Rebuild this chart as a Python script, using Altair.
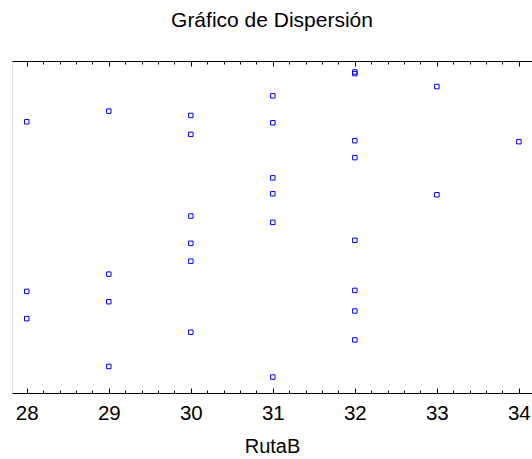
import altair as alt
import pandas as pd

# Data (y has no labelled scale; arbitrary 0-100 units)
ruta_b = [28, 28, 28,
          29, 29, 29, 29,
          30, 30, 30, 30, 30, 30,
          31, 31, 31, 31, 31, 31,
          32, 32, 32, 32, 32, 32, 32, 32,
          33, 33,
          34]
ruta_a = [81.7, 30.6, 22.4,
          84.9, 35.8, 27.5, 8.0,
          83.6, 77.9, 53.3, 45.1, 39.7, 18.3,
          89.5, 81.4, 64.8, 60.0, 51.4, 4.8,
          96.7, 96.2, 76.0, 70.9, 46.0, 30.9, 24.7, 16.0,
          92.3, 59.7,
          75.7]
major_ticks = [28, 29, 30, 31, 32, 33, 34]
minor_ticks = [round(28 + 0.2 * i, 1) for i in range(31) if i % 5 != 0]

df = pd.DataFrame({"RutaB": ruta_b, "RutaA": ruta_a})

FONT = "Liberation Sans"
xscale = alt.Scale(domain=[27.82, 34.16], nice=False, zero=False)
yscale = alt.Scale(domain=[0, 100], nice=False, zero=False)

yaxis = alt.Axis(title=None, labels=False, ticks=False, grid=False,
                 domain=True, domainColor="#000000", domainWidth=1)

base = alt.Chart(df)

points = base.mark_point(shape="square", filled=False, color="#0000ff",
                         size=20, strokeWidth=1, opacity=1).encode(
    x=alt.X("RutaB:Q", scale=xscale,
            axis=alt.Axis(title="RutaB", orient="bottom", values=major_ticks,
                          ticks=False, grid=False, domain=True,
                          domainColor="#000000", domainWidth=1,
                          labelFont=FONT, labelFontSize=20.5, labelColor="#000000",
                          labelPadding=10, titleFont=FONT, titleFontSize=20,
                          titleFontWeight="normal", titleColor="#000000",
                          titlePadding=13, format="d")),
    y=alt.Y("RutaA:Q", scale=yscale, axis=yaxis),
)


def tick_layer(orient, values, size):
    return base.mark_point(opacity=0).encode(
        x=alt.X("RutaB:Q", scale=xscale,
                axis=alt.Axis(title=None, orient=orient, values=values,
                              labels=False, grid=False, domain=False,
                              ticks=True, tickSize=size, tickColor="#000000",
                              tickWidth=1, offset=-size)),
        y=alt.Y("RutaA:Q", scale=yscale, axis=None),
    )


top_line = base.mark_point(opacity=0).encode(
    x=alt.X("RutaB:Q", scale=xscale,
            axis=alt.Axis(title=None, orient="top", labels=False, ticks=False,
                          grid=False, domain=True, domainColor="#000000",
                          domainWidth=1)),
    y=alt.Y("RutaA:Q", scale=yscale, axis=None),
)

chart = alt.layer(
    points,
    tick_layer("bottom", major_ticks, 5),
    tick_layer("bottom", minor_ticks, 3),
    tick_layer("top", major_ticks, 5),
    tick_layer("top", minor_ticks, 3),
    top_line,
).resolve_axis(x="independent").properties(
    width=520,
    height=332,
    title=alt.TitleParams("Gráfico de Dispersión", font=FONT, fontSize=21,
                          fontWeight="normal", color="#000000", anchor="middle",
                          offset=30),
    padding={"left": 12, "top": 61, "right": 0, "bottom": 66},
    autosize=alt.AutoSizeParams(type="none"),
).configure_view(stroke=None).configure(background="#ffffff")

chart.save("out.html", embed_options={"renderer": "svg", "actions": False})
